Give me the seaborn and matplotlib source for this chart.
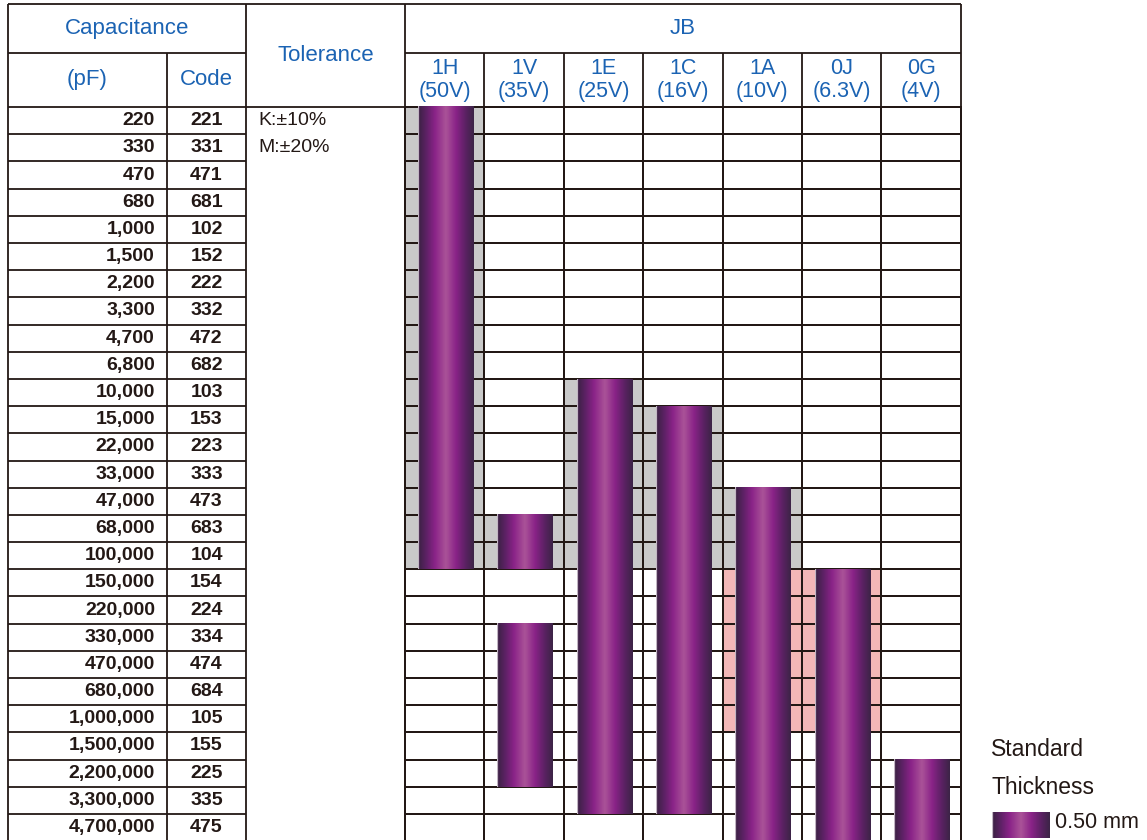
import numpy as np
import pandas as pd
import matplotlib
matplotlib.use("Agg")
import matplotlib.pyplot as plt
import seaborn as sns
from matplotlib.colors import ListedColormap, LinearSegmentedColormap

# ------------------------------------------------------------
# data
# ------------------------------------------------------------
cap_pf = ["220", "330", "470", "680", "1,000", "1,500", "2,200", "3,300", "4,700",
          "6,800", "10,000", "15,000", "22,000", "33,000", "47,000", "68,000",
          "100,000", "150,000", "220,000", "330,000", "470,000", "680,000",
          "1,000,000", "1,500,000", "2,200,000", "3,300,000", "4,700,000"]
cap_code = ["221", "331", "471", "681", "102", "152", "222", "332", "472",
            "682", "103", "153", "223", "333", "473", "683",
            "104", "154", "224", "334", "474", "684",
            "105", "155", "225", "335", "475"]
volt_code = ["1H", "1V", "1E", "1C", "1A", "0J", "0G"]
volt_rating = ["(50V)", "(35V)", "(25V)", "(16V)", "(10V)", "(6.3V)", "(4V)"]
tolerance = ["K:±10%", "M:±20%"]

# bars: column, first code, last code
bar_col = ["1H", "1V", "1V", "1E", "1C", "1A", "0J", "0G"]
bar_from = ["221", "683", "334", "103", "153", "473", "154", "225"]
bar_to = ["104", "104", "225", "335", "335", "475", "475", "475"]

# grey shaded cells
grey_col = ["1H", "1V", "1E", "1C", "1A"]
grey_from = ["221", "683", "103", "153", "473"]
grey_to = ["104", "104", "104", "104", "104"]

# pink shaded cells
pink_col = ["1A", "0J"]
pink_from = ["154", "154"]
pink_to = ["105", "105"]

thickness_label = "0.50 mm"

# ------------------------------------------------------------
# style
# ------------------------------------------------------------
sns.set_style("white")
plt.rcParams["font.family"] = ["Liberation Sans", "DejaVu Sans"]

LINE = "#231815"
BLUE = "#1b63b3"
TXT = "#231815"
LW = 1.3

bar_cmap = LinearSegmentedColormap.from_list(
    "jb", [(0.0, "#3a2243"), (0.15, "#5e2166"), (0.3, "#8a2388"),
           (0.5, "#aa5398"), (0.68, "#8a2388"), (0.85, "#5c2164"),
           (1.0, "#3c2446")])
grad = bar_cmap(np.linspace(0, 1, 120))[None, :, :].copy()
grad[0, :2, :3] = [0.86, 0.82, 0.86]

shade = pd.DataFrame(0, index=cap_code, columns=volt_code)
for c, a, b in zip(grey_col, grey_from, grey_to):
    shade.loc[a:b, c] = 1
for c, a, b in zip(pink_col, pink_from, pink_to):
    shade.loc[a:b, c] = 2

n_rows = len(cap_code)
n_cols = len(volt_code)

fig = plt.figure(figsize=(11.47, 8.4), dpi=100)
ax = fig.add_axes([0, 0, 1, 1])

sns.heatmap(shade, ax=ax, cmap=ListedColormap(["white", "#c9c9c9", "#f3b7b7"]),
            vmin=-0.5, vmax=2.5, cbar=False, linewidths=LW, linecolor=LINE,
            xticklabels=False, yticklabels=False)

# bars
for c, a, b in zip(bar_col, bar_from, bar_to):
    ci = volt_code.index(c)
    r0 = cap_code.index(a)
    r1 = cap_code.index(b) + 1
    ax.imshow(grad, extent=(ci + 0.16, ci + 0.86, r1, r0), aspect="auto",
              interpolation="bilinear", zorder=3)

# table lines for the left part and headers
top = -3.8
kw = dict(color=LINE, lw=LW, zorder=2)
ax.hlines(top, -5, n_cols, **kw)
ax.hlines(-2, -5, -2, **kw)
ax.hlines(-2, 0, n_cols, **kw)
ax.hlines(np.arange(0, n_rows + 1), -5, -2, **kw)
ax.hlines(0, -2, 0, **kw)
ax.vlines([-5, -2, 0, n_cols], top, n_rows, **kw)
ax.vlines(-3, -2, n_rows, **kw)
ax.vlines(np.arange(1, n_cols), -2, 0, **kw)

# header text
ax.text(-3.5, -2.9, "Capacitance", ha="center", va="center", fontsize=16, color=BLUE)
ax.text(-4, -1, "(pF)", ha="center", va="center", fontsize=16, color=BLUE)
ax.text(-2.5, -1, "Code", ha="center", va="center", fontsize=16, color=BLUE)
ax.text(-1, -1.9, "Tolerance", ha="center", va="center", fontsize=16, color=BLUE)
ax.text(n_cols / 2, -2.9, "JB", ha="center", va="center", fontsize=16, color=BLUE)
for i, (vc, vr) in enumerate(zip(volt_code, volt_rating)):
    ax.text(i + 0.5, -1, vc + "\n" + vr, ha="center", va="center", fontsize=15.5,
            color=BLUE, linespacing=1.1)

# row text
for i, (pf, code) in enumerate(zip(cap_pf, cap_code)):
    ax.text(-3.15, i + 0.5, pf, ha="right", va="center", fontsize=14,
            fontweight="bold", color=TXT)
    ax.text(-2.5, i + 0.5, code, ha="center", va="center", fontsize=14,
            fontweight="bold", color=TXT)
for i, t in enumerate(tolerance):
    ax.text(-1.85, i + 0.5, t, ha="left", va="center", fontsize=14, color=TXT)

# bottom edge of the table falls just outside the picture
ax.set_xlim(-5 - 8 / 79.4, -5 - 8 / 79.4 + 1147 / 79.4)
ax.set_ylim(n_rows - 0.04, -3.94)
ax.axis("off")

# legend
fig.text(991 / 1147, 1 - 750 / 840, "Standard", ha="left", va="center",
         fontsize=16.5, color=TXT)
fig.text(991 / 1147, 1 - 787 / 840, "Thickness", ha="left", va="center",
         fontsize=16.5, color=TXT)
lax = fig.add_axes([992 / 1147, 1 - 838 / 840, 58 / 1147, 26 / 840])
lax.imshow(grad, aspect="auto", interpolation="bilinear")
lax.axis("off")
fig.text(1055 / 1147, 1 - 823 / 840, thickness_label, ha="left", va="center",
         fontsize=15.5, color=TXT)

fig.savefig("out.png", dpi=100)
